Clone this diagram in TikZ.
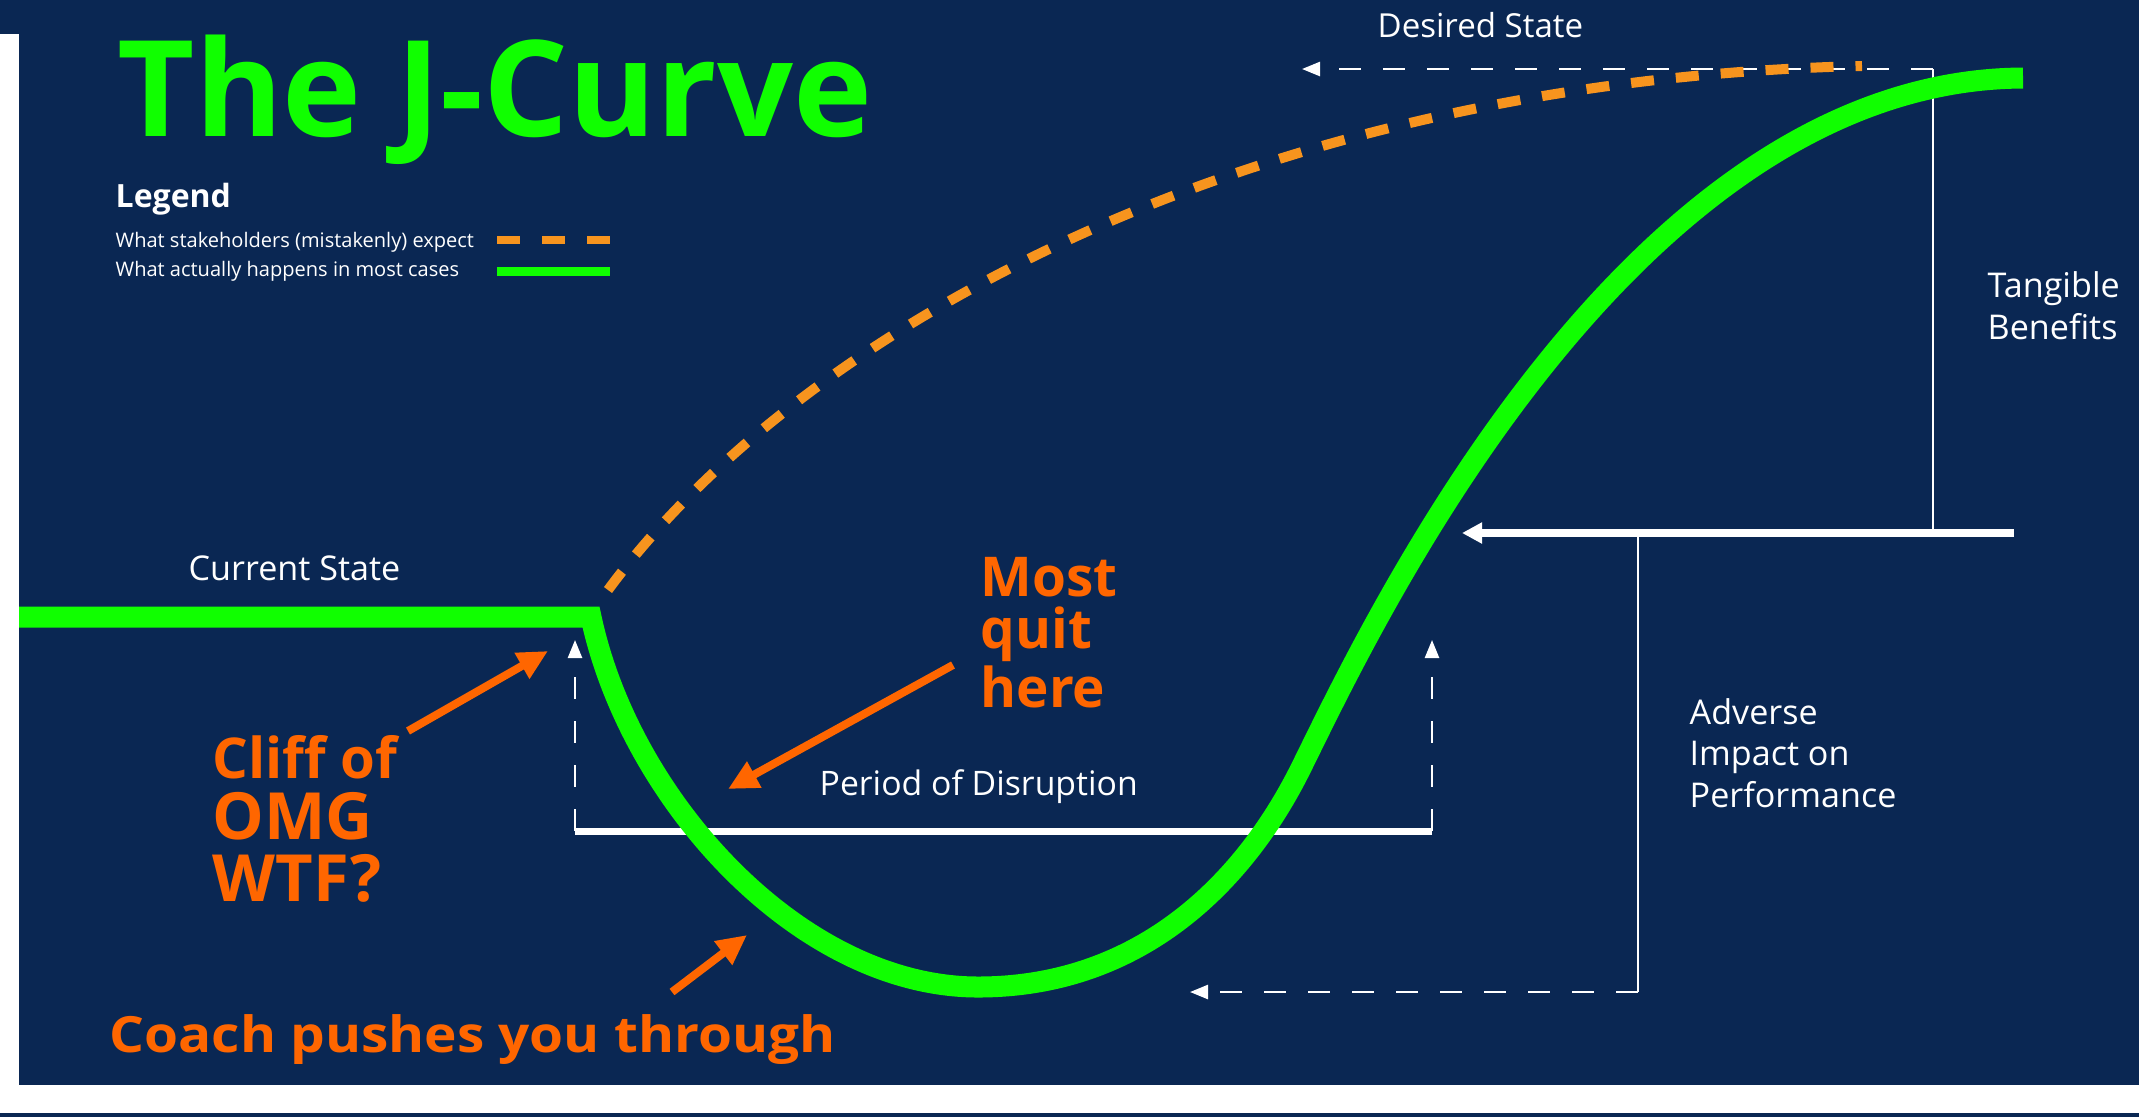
\documentclass[tikz,border=0pt]{standalone}
\usepackage{fontspec}
\setmainfont{Open Sans}
\usetikzlibrary{arrows.meta}
\definecolor{navy}{RGB}{10,39,83}
\definecolor{jgreen}{RGB}{16,255,0}
\definecolor{hot}{RGB}{255,102,0}
\definecolor{hope}{RGB}{247,148,30}

\begin{document}
\begin{tikzpicture}[
    x=0.01cm, y=-0.01cm,
    lbl/.style={text=white, inner sep=0, anchor=base west, align=left, font=\fontsize{9.7}{11.7}\selectfont},
    shout/.style={text=hot, inner sep=0, anchor=base west, align=left, font=\bfseries\fontsize{18.5}{17.4}\selectfont},
    hint/.style={draw=hot, line width=0.08cm, -{Triangle[length=0.3cm, width=0.28cm]}},
    actual/.style={draw=jgreen, line width=0.21cm},
    expect/.style={draw=hope, line width=0.1cm, dash pattern=on 0.23cm off 0.22cm},
    guide/.style={draw=white, line width=0.7pt, dash pattern=on 0.22cm off 0.22cm, -{Triangle[length=0.18cm, width=0.14cm]}},
    whitebar/.style={draw=white, line width=0.08cm},
    thinline/.style={draw=white, line width=0.7pt}
]
\fill[navy] (0,0) rectangle (2139,1117);
\fill[white] (0,34) rectangle (19,1085);
\fill[white] (0,1085) rectangle (2139,1113);
\useasboundingbox (0,0) rectangle (2139,1117);

\coordinate (start) at (19,617);
\coordinate (edge) at (591,617);
\coordinate (dip) at (978,987);
\coordinate (turn) at (1300,770);
\coordinate (goal) at (2023,78);
\coordinate (hopefrom) at (608,590);
\coordinate (hopeto) at (1862,66);

\coordinate (desired) at (1302,69);
\coordinate (top) at (1933,69);
\coordinate (topfoot) at (1933,533);
\coordinate (benefit) at (1462,533);
\coordinate (barend) at (2014,533);
\coordinate (drop) at (1638,533);
\coordinate (low) at (1638,992);
\coordinate (lowtip) at (1190,992);
\coordinate (pl) at (575,831);
\coordinate (pr) at (1432,831);
\coordinate (pltip) at (575,640);
\coordinate (prtip) at (1432,640);

\draw[thinline] (topfoot) -- (top);
\draw[guide] (top) -- (desired);
\draw[whitebar, -{Triangle[length=0.2cm, width=0.2cm]}] (barend) -- (benefit);
\draw[thinline] (drop) -- (low);
\draw[guide] (low) -- (lowtip);
\draw[whitebar, line width=0.07cm] (pl) -- (pr);
\draw[guide] (pl) -- (pltip);
\draw[guide] (pr) -- (prtip);

\draw[expect] (hopefrom) .. controls (800,330) and (1250,80) .. (hopeto);
\draw[actual] (start) -- (edge) .. controls (630,800) and (800,987) .. (dip)
    .. controls (1150,987) and (1250,870) .. (turn)
    .. controls (1360,650) and (1620,80) .. (goal);

\node[font=\bfseries\fontsize{38}{40}\selectfont, text=jgreen, inner sep=0, anchor=base west] (title) at (117,136) {The J-Curve};
\node[lbl, font=\bfseries\fontsize{9.1}{11}\selectfont] (legend) at (115,207) {Legend};
\node[lbl, font=\fontsize{5.7}{7}\selectfont] (wish) at (115,247) {What stakeholders (mistakenly) expect};
\node[lbl, font=\fontsize{5.7}{7}\selectfont] (real) at (115,276) {What actually happens in most cases};
\coordinate (wishA) at (497,240);
\coordinate (wishB) at (610,240);
\coordinate (realA) at (497,271);
\coordinate (realB) at (610,271);
\draw[expect, line width=0.08cm] (wishA) -- (wishB);
\draw[actual, line width=0.09cm] (realA) -- (realB);

\node[lbl, font=\fontsize{9.4}{11}\selectfont] (desiredlbl) at (1377,37) {Desired State};
\node[lbl] (tangible) at (1987,339) {Tangible\\Benefits};
\node[lbl] (current) at (188,580) {Current State};
\node[lbl, font=\fontsize{9.6}{11}\selectfont] (period) at (819,795) {Period of Disruption};
\node[lbl] (adverse) at (1689,807) {Adverse\\Impact on\\Performance};

\node[shout] (cliff) at (212,901) {{\fontsize{16}{17.4}\selectfont Cliff of}\\OMG\\WTF?};
\node[shout, font=\bfseries\fontsize{15.6}{14.8}\selectfont] (most) at (980,707) {Most\\quit\\here};
\node[shout, font=\bfseries\addfontfeatures{FakeStretch=1.1}\fontsize{14.2}{16}\selectfont] (coach) at (109,1052) {Coach pushes you through};

\coordinate (cliffA) at (408,731);
\coordinate (cliffB) at (548,651);
\coordinate (mostA) at (953,665);
\coordinate (mostB) at (728,789);
\coordinate (coachA) at (672,992);
\coordinate (coachB) at (747,935);
\draw[hint] (cliffA) -- (cliffB);
\draw[hint] (mostA) -- (mostB);
\draw[hint] (coachA) -- (coachB);
\end{tikzpicture}
\end{document}
